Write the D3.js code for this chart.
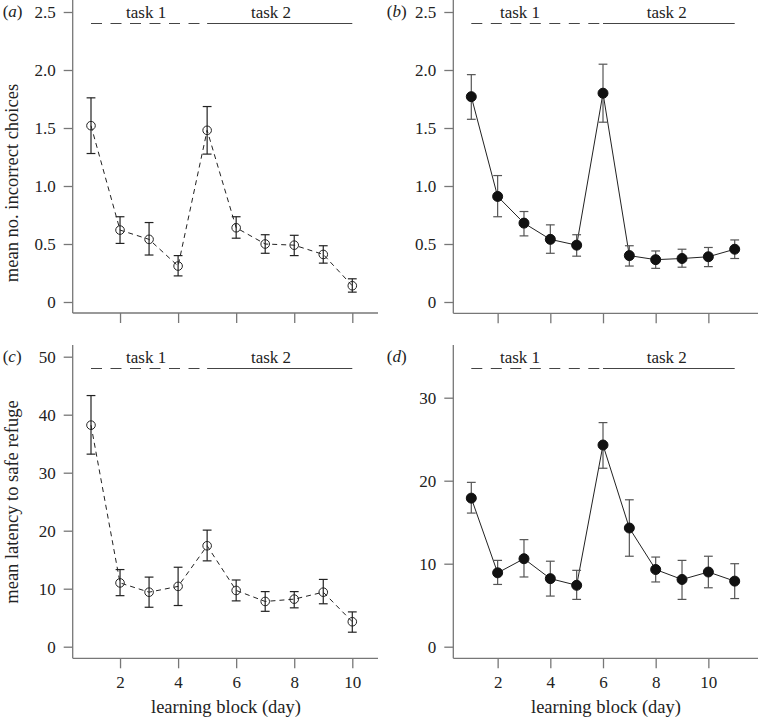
<!DOCTYPE html>
<html><head><meta charset="utf-8">
<script src="https://cdn.jsdelivr.net/npm/d3@7"></script>
</head>
<body style="margin:0;background:#fff"><svg id="chart" width="760" height="720"></svg>
<script>
// ---- data ----
const daysAC = [1,2,3,4,5,6,7,8,9,10];
const daysBD = [1,2,3,4,5,6,7,8,9,10,11];

const aMean  = [1.52,0.62,0.54,0.31,1.48,0.64,0.50,0.49,0.41,0.14];
const aUpper = [1.76,0.735,0.685,0.40,1.685,0.735,0.58,0.575,0.485,0.20];
const aLower = [1.28,0.505,0.405,0.225,1.275,0.55,0.42,0.40,0.335,0.085];

const bMean  = [1.77,0.91,0.68,0.54,0.49,1.80,0.40,0.365,0.375,0.39,0.455];
const bUpper = [1.96,1.09,0.78,0.665,0.58,2.05,0.485,0.44,0.455,0.47,0.535];
const bLower = [1.575,0.735,0.57,0.42,0.395,1.55,0.31,0.29,0.30,0.305,0.375];

const cMean  = [38.2,11.0,9.4,10.4,17.4,9.7,7.8,8.2,9.4,4.3];
const cUpper = [43.3,13.3,12.0,13.7,20.1,11.5,9.5,9.5,11.6,6.0];
const cLower = [33.2,8.8,6.8,7.1,14.8,7.9,6.1,6.7,7.4,2.5];

const dMean  = [17.9,8.9,10.6,8.2,7.4,24.3,14.3,9.3,8.1,9.0,7.9];
const dUpper = [19.8,10.4,12.9,10.3,9.2,27.0,17.7,10.8,10.4,10.9,10.0];
const dLower = [16.1,7.5,8.4,6.1,5.7,21.5,10.9,7.8,5.7,7.1,5.8];

const xTicks = [2,4,6,8,10];
const yTicksChoices = [0,0.5,1.0,1.5,2.0,2.5];
const yTicksLatencyC = [0,10,20,30,40,50];
const yTicksLatencyD = [0,10,20,30];

const taskLabels = ["task 1","task 2"];
const tasksAC = [[1,5],[5,10]];
const tasksBD = [[1,6],[6,11]];
const taskLabelPosAC = [2.9,7.2];
const taskLabelPosBD = [2.85,8.42];

const yTitles = ["mean no. incorrect choices","mean latency to safe refuge"];
const xTitle = "learning block (day)";

// ---- layout ----
const FONT = "'Liberation Serif', 'Times New Roman', Times, serif";
const TEXT = "#222";
const svg = d3.select("#chart").style("font-family", FONT);
const panels = [
  {letter:"a", days:daysAC, mean:aMean, up:aUpper, lo:aLower, filled:false,
   xd:[1,10], xr:[91,352.3], yd:[0,2.5], yr:[302,12], ax:72.7, ay:313, top:0, right:378,
   yTicks:yTicksChoices, fmt:d=>d===0?"0":d3.format(".1f")(d), xLabels:false,
   tasks:tasksAC, tpos:taskLabelPosAC, ytitle:yTitles[0], ytitleY:183},
  {letter:"b", days:daysBD, mean:bMean, up:bUpper, lo:bLower, filled:true,
   xd:[1,11], xr:[471.3,734.7], yd:[0,2.5], yr:[302,12], ax:453.3, ay:313.3, top:0, right:758,
   yTicks:yTicksChoices, fmt:d=>d===0?"0":d3.format(".1f")(d), xLabels:false,
   tasks:tasksBD, tpos:taskLabelPosBD, ytitle:null},
  {letter:"c", days:daysAC, mean:cMean, up:cUpper, lo:cLower, filled:false,
   xd:[1,10], xr:[91,352.3], yd:[0,50], yr:[646.7,356.7], ax:72.7, ay:658.3, top:345, right:378,
   yTicks:yTicksLatencyC, fmt:d3.format("d"), xLabels:true,
   tasks:tasksAC, tpos:taskLabelPosAC, ytitle:yTitles[1], ytitleY:502, xtitleX:226},
  {letter:"d", days:daysBD, mean:dMean, up:dUpper, lo:dLower, filled:true,
   xd:[1,11], xr:[471.3,734.7], yd:[0,30], yr:[646.7,397.7], ax:453.3, ay:658.3, top:345, right:758,
   yTicks:yTicksLatencyD, fmt:d3.format("d"), xLabels:true,
   tasks:tasksBD, tpos:taskLabelPosBD, ytitle:null, xtitleX:606}
];

const axisColor = "#777";

function styleText(sel, size) {
  return sel.style("font-family", FONT).style("font-size", size + "px").style("fill", TEXT);
}

panels.forEach(p => {
  const x = d3.scaleLinear().domain(p.xd).range(p.xr);
  const y = d3.scaleLinear().domain(p.yd).range(p.yr);
  const g = svg.append("g");

  // axis lines
  g.append("line").attr("x1",p.ax).attr("x2",p.ax).attr("y1",p.top).attr("y2",p.ay)
    .attr("stroke",axisColor).attr("stroke-width",1.3);
  g.append("line").attr("x1",p.ax).attr("x2",p.right).attr("y1",p.ay).attr("y2",p.ay)
    .attr("stroke",axisColor).attr("stroke-width",1.3);

  // y axis ticks
  const yA = d3.axisLeft(y).tickValues(p.yTicks).tickFormat(p.fmt).tickSize(9).tickPadding(8);
  const yg = g.append("g").attr("transform",`translate(${p.ax},0)`).call(yA);
  yg.attr("font-family", null).attr("font-size", null);
  yg.select(".domain").remove();
  yg.selectAll(".tick line").attr("stroke",axisColor).attr("stroke-width",1.3);
  styleText(yg.selectAll(".tick text"), 17);

  // x axis ticks
  const xA = d3.axisBottom(x).tickValues(xTicks).tickSize(10).tickPadding(8)
    .tickFormat(p.xLabels ? d3.format("d") : "");
  const xg = g.append("g").attr("transform",`translate(0,${p.ay})`).call(xA);
  xg.attr("font-family", null).attr("font-size", null);
  xg.select(".domain").remove();
  xg.selectAll(".tick line").attr("stroke",axisColor).attr("stroke-width",1.3);
  styleText(xg.selectAll(".tick text"), 17);

  // panel letter
  const lt = g.append("text").attr("x",p.ax-70).attr("y",p.top+17);
  styleText(lt, 17);
  lt.append("tspan").text("(");
  lt.append("tspan").style("font-style","italic").text(p.letter);
  lt.append("tspan").text(")");
  if (p.letter==="b"||p.letter==="d") lt.attr("x",p.ax-66.5);
  if (p.letter==="c") lt.attr("y",p.top+16.5);

  // task indicator lines
  const ty = p.top + 23.5;
  g.append("line").attr("x1",x(p.tasks[0][0])).attr("x2",x(p.tasks[0][1])).attr("y1",ty).attr("y2",ty)
    .attr("stroke","#444").attr("stroke-width",1).attr("stroke-dasharray","11,8.5");
  g.append("line").attr("x1",x(p.tasks[1][0])).attr("x2",x(p.tasks[1][1])).attr("y1",ty).attr("y2",ty)
    .attr("stroke","#444").attr("stroke-width",1);
  taskLabels.forEach((t,i)=>{
    styleText(g.append("text").attr("x",x(p.tpos[i])).attr("y",p.top+17.5).attr("text-anchor","middle"), 17)
      .text(t);
  });

  // data line
  const line = d3.line().x((d,i)=>x(p.days[i])).y(d=>y(d));
  g.append("path").datum(p.mean).attr("d",line).attr("fill","none")
    .attr("stroke","#222").attr("stroke-width",1)
    .attr("stroke-dasharray", p.filled ? null : "5,4");

  // error bars
  const ebColor = p.filled ? "#555" : "#222";
  const eb = g.append("g").attr("stroke",ebColor).attr("stroke-width",1.2);
  p.days.forEach((d,i)=>{
    const cx = x(d);
    eb.append("line").attr("x1",cx).attr("x2",cx).attr("y1",y(p.up[i])).attr("y2",y(p.lo[i]));
    eb.append("line").attr("x1",cx-4.4).attr("x2",cx+4.4).attr("y1",y(p.up[i])).attr("y2",y(p.up[i]));
    eb.append("line").attr("x1",cx-4.4).attr("x2",cx+4.4).attr("y1",y(p.lo[i])).attr("y2",y(p.lo[i]));
  });

  // points
  g.selectAll("circle.pt").data(p.mean).enter().append("circle").attr("class","pt")
    .attr("cx",(d,i)=>x(p.days[i])).attr("cy",d=>y(d))
    .attr("r", p.filled ? 5 : 4.3)
    .attr("fill", p.filled ? "#111" : "none")
    .attr("stroke", p.filled ? "#111" : "#222").attr("stroke-width",1);

  // y title
  if (p.ytitle) {
    styleText(g.append("text").attr("transform",`translate(18,${p.ytitleY}) rotate(-90)`)
      .attr("text-anchor","middle"), 18.5).text(p.ytitle);
  }
  // x title
  if (p.xLabels) {
    styleText(g.append("text").attr("x",p.xtitleX).attr("y",713).attr("text-anchor","middle"), 18.5)
      .text(xTitle);
  }
});
</script></body></html>
